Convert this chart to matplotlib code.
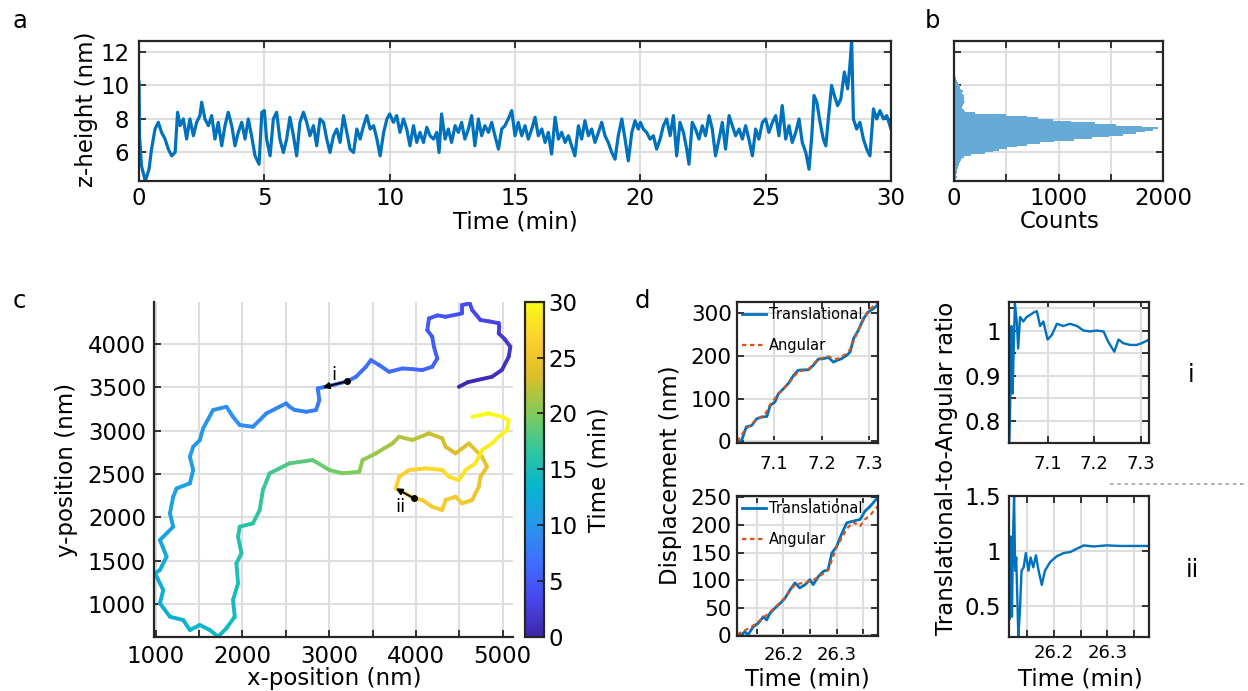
import numpy as np
import matplotlib
matplotlib.use('Agg')
import matplotlib.pyplot as plt
from matplotlib.collections import LineCollection
from matplotlib.colors import LinearSegmentedColormap, Normalize
from matplotlib.cm import ScalarMappable
from matplotlib.lines import Line2D

plt.rcParams['font.family'] = 'DejaVu Sans'

###########
# DATA
###########

# a: z-height (nm) against time (min)
z_time = [0.0, 0.02, 0.1, 0.25, 0.4, 0.5, 0.64, 0.77, 0.9, 1.04, 1.17, 1.3, 1.44, 1.54, 1.64, 1.77, 1.9, 2.03, 2.17, 2.3,
          2.43, 2.5, 2.63, 2.77, 2.9, 3.03, 3.16, 3.3, 3.43, 3.56, 3.7, 3.83, 3.96, 4.1, 4.23, 4.36, 4.49, 4.63, 4.79, 4.9,
          5.0, 5.09, 5.23, 5.36, 5.49, 5.62, 5.76, 5.89, 6.02, 6.16, 6.29, 6.42, 6.56, 6.69, 6.82, 6.96, 7.09, 7.22, 7.36, 7.49,
          7.62, 7.76, 7.89, 8.02, 8.16, 8.29, 8.42, 8.56, 8.69, 8.82, 8.96, 9.09, 9.22, 9.36, 9.49, 9.62, 9.76, 9.89,
          10.0, 10.15, 10.28, 10.41, 10.55, 10.68, 10.81, 10.95, 11.08, 11.21, 11.35, 11.48, 11.61, 11.75, 11.88, 11.97, 12.07, 12.21, 12.34, 12.47,
          12.61, 12.74, 12.87, 13.0, 13.14, 13.27, 13.4, 13.54, 13.67, 13.8, 13.94, 14.07, 14.2, 14.34, 14.47, 14.6, 14.73, 14.87, 15.0, 15.13,
          15.27, 15.4, 15.53, 15.67, 15.8, 15.93, 16.07, 16.2, 16.33, 16.46, 16.6, 16.73, 16.86, 17.0, 17.13, 17.26, 17.39, 17.53, 17.66, 17.79,
          17.93, 18.06, 18.19, 18.33, 18.46, 18.59, 18.72, 18.86, 18.99, 19.12, 19.26, 19.39, 19.52, 19.66, 19.79, 19.92,
          20.0, 20.12, 20.25, 20.39, 20.52, 20.65, 20.79, 20.92, 21.05, 21.19, 21.32, 21.45, 21.58, 21.72, 21.85, 21.94, 22.07, 22.2, 22.34, 22.47,
          22.6, 22.74, 22.87, 23.0, 23.14, 23.27, 23.4, 23.54, 23.67, 23.8, 23.94, 24.07, 24.2, 24.33, 24.47, 24.6, 24.73, 24.87, 25.0, 25.13,
          25.27, 25.4, 25.53, 25.66, 25.8, 25.93, 26.06, 26.2, 26.33, 26.46, 26.6, 26.73, 26.84, 26.93, 27.04, 27.17, 27.3, 27.4, 27.5, 27.63,
          27.74, 27.87, 28.0, 28.14, 28.27, 28.36, 28.43, 28.5, 28.63, 28.76, 28.9, 29.03, 29.16, 29.3, 29.43, 29.56, 29.7, 29.83, 30.0]
z_height = [10.2, 7.0, 5.2, 4.3, 5.0, 6.2, 7.4, 7.8, 7.2, 6.8, 6.2, 5.8, 6.0, 8.4, 7.6, 8.0, 6.8, 8.0, 7.0, 7.8,
            8.2, 9.0, 8.0, 7.6, 8.2, 6.8, 7.8, 6.4, 7.6, 8.4, 7.6, 6.4, 7.2, 7.8, 6.8, 8.0, 7.0, 5.8, 5.3, 8.4,
            8.5, 6.8, 5.8, 8.0, 8.4, 6.8, 6.0, 6.8, 8.1, 7.0, 5.8, 7.8, 8.4, 7.8, 7.0, 7.6, 6.4, 8.0, 7.8, 6.8,
            6.0, 7.0, 7.4, 6.6, 8.2, 7.2, 6.2, 6.0, 7.4, 6.8, 7.6, 8.2, 7.4, 7.6, 6.8, 5.8, 7.2, 8.0,
            8.3, 7.8, 8.2, 7.2, 8.0, 7.4, 6.4, 7.6, 6.6, 7.2, 6.6, 7.5, 7.0, 6.8, 7.2, 6.0, 8.3, 6.8, 7.4, 6.6,
            7.6, 7.2, 7.8, 6.8, 7.4, 8.2, 6.4, 8.0, 7.0, 7.6, 7.2, 7.8, 7.0, 6.2, 7.4, 7.6, 8.0, 8.5, 7.0, 7.8,
            7.0, 7.6, 6.8, 7.4, 8.1, 7.0, 7.4, 6.6, 7.2, 5.9, 8.1, 6.8, 7.2, 6.6, 7.0, 6.4, 5.8, 7.6, 6.8, 7.9,
            7.0, 7.4, 6.6, 7.2, 7.8, 7.0, 6.6, 6.0, 5.6, 7.0, 8.0, 6.8, 5.5, 7.2, 7.9, 7.4,
            7.8, 7.4, 7.2, 6.8, 7.0, 6.2, 6.8, 7.6, 8.0, 7.0, 8.2, 5.8, 7.8, 7.2, 6.2, 5.3, 7.8, 7.4, 6.8, 7.6,
            7.0, 8.2, 7.4, 5.8, 6.8, 7.8, 6.2, 8.2, 7.6, 7.0, 7.4, 6.8, 7.6, 6.8, 5.8, 7.4, 6.8, 7.8, 8.0, 7.2,
            7.8, 8.2, 7.0, 8.8, 6.8, 7.6, 6.6, 7.2, 8.0, 6.6, 6.0, 5.0, 7.0, 9.4, 9.0, 7.8, 6.8, 6.4, 8.0, 10.0,
            9.4, 8.8, 9.2, 10.8, 9.8, 11.2, 12.7, 8.0, 7.4, 7.8, 6.8, 6.2, 5.8, 8.6, 8.0, 8.5, 8.0, 8.2, 7.4]

# b: histogram of z-height, 0.1 nm bins starting at 4.3 nm
hist_start = 4.3
hist_width = 0.1
hist_counts = [15, 20, 25, 20, 25, 30, 30, 35, 40, 45, 50, 60, 70, 80, 100, 160, 300, 370, 430, 510,
               600, 700, 820, 960, 1150, 1320, 1480, 1620, 1740, 1830, 1900, 1950, 1800, 1550, 1350, 1120, 950, 800, 700, 500,
               200, 110, 95, 80, 75, 85, 100, 110, 100, 95, 100, 90, 80, 85, 70, 60, 55, 45, 40, 30,
               20, 15, 12, 10, 10, 8, 8, 6, 5, 4, 3, 3, 2, 2, 2, 1, 1, 1, 1, 1, 0, 0, 1]

# c: xy trajectory (nm), coloured by time (min)
traj_x = [4495, 4600, 4877, 4990, 5069, 5088, 5020, 4954, 4960, 4954,
          4850, 4744, 4700, 4648, 4620, 4533, 4533, 4342, 4250, 4150,
          4131, 4188, 4207, 4246, 4188, 4073, 3960, 3844, 3691, 3576,
          3481, 3424, 3309, 3210, 3040, 2925, 2868, 2887, 2849, 2735,
          2600, 2543, 2505, 2390, 2276, 2122, 1969, 1892, 1816, 1662,
          1548, 1510, 1433, 1395, 1433, 1395, 1242, 1203, 1165, 1203,
          1127, 1050, 1127, 1050, 993, 1088, 1050, 1165, 1318, 1395,
          1510, 1625, 1720, 1816, 1912, 1892, 1950, 1931, 1989, 1950,
          1969, 2122, 2199, 2237, 2313, 2428, 2543, 2811, 3002, 3155,
          3347, 3385, 3539, 3729, 3806, 3959, 4150, 4303, 4342, 4457,
          4610, 4762, 4820, 4744, 4724, 4648, 4533, 4457, 4342, 4303,
          4188, 4073, 3978, 3870, 3768, 3806, 3921, 4112, 4303, 4380,
          4495, 4572, 4686, 4762, 4877, 4954, 5050, 5069, 4992, 4839, 4648]
traj_y = [3506, 3560, 3622, 3700, 3852, 3968, 4060, 4122, 4200, 4240,
          4260, 4276, 4330, 4391, 4468, 4450, 4353, 4314, 4330, 4295,
          4160, 4083, 3968, 3834, 3737, 3699, 3710, 3718, 3679, 3757,
          3814, 3737, 3622, 3570, 3526, 3499, 3488, 3353, 3238, 3218,
          3240, 3276, 3315, 3257, 3199, 3045, 3065, 3160, 3276, 3238,
          3026, 2892, 2814, 2699, 2546, 2392, 2334, 2238, 2046, 1892,
          1815, 1738, 1546, 1392, 1354, 1161, 1008, 854, 815, 700,
          758, 700, 623, 720, 854, 1046, 1239, 1469, 1585, 1776,
          1892, 1931, 2084, 2315, 2508, 2565, 2623, 2661, 2546, 2508,
          2526, 2661, 2738, 2853, 2930, 2892, 2969, 2911, 2814, 2738,
          2853, 2699, 2584, 2468, 2353, 2200, 2161, 2238, 2200, 2084,
          2122, 2200, 2219, 2280, 2334, 2468, 2546, 2565, 2546, 2468,
          2430, 2546, 2623, 2776, 2853, 2930, 3007, 3122, 3160, 3199, 3160]
traj_t = [0.0, 0.3, 0.8, 1.1, 1.4, 1.6, 2.0, 2.3, 2.5, 2.7,
          2.9, 3.1, 3.3, 3.5, 3.7, 3.9, 4.0, 4.3, 4.5, 4.7,
          4.9, 5.0, 5.2, 5.4, 5.6, 5.8, 6.0, 6.2, 6.4, 6.6,
          6.7, 6.8, 6.9, 7.02, 7.2, 7.32, 7.4, 7.6, 7.8, 8.0,
          8.2, 8.3, 8.4, 8.6, 8.8, 9.1, 9.3, 9.5, 9.6, 9.8,
          10.0, 10.2, 10.3, 10.5, 10.6, 10.8, 11.0, 11.1, 11.3, 11.5,
          11.6, 11.8, 12.0, 12.2, 12.3, 12.5, 12.7, 12.9, 13.1, 13.3,
          13.5, 13.7, 13.9, 14.1, 14.3, 14.6, 14.9, 15.2, 15.4, 15.7,
          15.9, 16.2, 16.5, 16.8, 17.1, 17.4, 17.8, 18.6, 19.2, 19.6,
          20.1, 20.4, 20.8, 21.3, 21.6, 22.0, 22.5, 22.9, 23.1, 23.4,
          23.8, 24.2, 24.5, 24.7, 24.9, 25.2, 25.4, 25.6, 25.8, 25.9,
          26.0, 26.08, 26.13, 26.25, 26.38, 26.6, 26.8, 27.1, 27.4, 27.6,
          27.8, 28.0, 28.3, 28.6, 28.9, 29.1, 29.3, 29.5, 29.7, 29.85, 30.0]
arrow_i = [(3210, 3570), (2925, 3499)]
arrow_ii = [(3978, 2219), (3768, 2334)]

# d: displacement (nm) for segments i and ii
d1_t = [7.023, 7.032, 7.042, 7.053, 7.064, 7.074, 7.085, 7.092, 7.102, 7.109, 7.12, 7.13, 7.141, 7.151, 7.162, 7.172,
        7.183, 7.193, 7.204, 7.214, 7.225, 7.232, 7.242, 7.253, 7.26, 7.267, 7.277, 7.288, 7.298, 7.309, 7.319]
d1_trans = [-3, 2, 34, 37, 53, 57, 58, 84, 92, 111, 123, 135, 154, 166, 167, 167,
            178, 192, 193, 196, 185, 189, 193, 201, 209, 240, 259, 287, 302, 310, 320]
d1_ang_t = [7.023, 7.04, 7.053, 7.064, 7.08, 7.092, 7.109, 7.13, 7.151, 7.172, 7.193, 7.214, 7.232, 7.253, 7.26, 7.277, 7.298, 7.319]
d1_ang = [0, 28, 40, 52, 60, 86, 110, 135, 163, 168, 192, 198, 192, 205, 215, 260, 305, 326]

d2_t = [26.114, 26.122, 26.128, 26.134, 26.144, 26.153, 26.163, 26.169, 26.175, 26.184, 26.194, 26.203, 26.213, 26.222, 26.231,
        26.241, 26.25, 26.256, 26.266, 26.275, 26.284, 26.291, 26.3, 26.309, 26.319, 26.331, 26.344, 26.353, 26.363, 26.378]
d2_trans = [0, 1, 7, 1, 16, 22, 34, 28, 40, 49, 58, 67, 83, 95, 86,
            92, 101, 92, 107, 116, 119, 149, 161, 183, 204, 207, 210, 225, 234, 251]
d2_ang_t = [26.114, 26.13, 26.144, 26.163, 26.184, 26.203, 26.222, 26.241, 26.256, 26.275, 26.284, 26.3, 26.319, 26.331, 26.344, 26.353, 26.363, 26.378]
d2_ang = [2, 10, 18, 32, 50, 68, 92, 96, 100, 112, 118, 160, 193, 205, 198, 210, 218, 235]

# translational-to-angular ratio
r1_t = [7.018, 7.021, 7.023, 7.025, 7.028, 7.03, 7.034, 7.037, 7.041, 7.048, 7.055, 7.063, 7.07, 7.077, 7.084, 7.091, 7.1,
        7.109, 7.12, 7.134, 7.148, 7.163, 7.177, 7.191, 7.205, 7.22, 7.23, 7.243, 7.252, 7.262, 7.277, 7.291, 7.302, 7.318]
r1 = [0.75, 0.89, 1.01, 0.86, 0.98, 1.06, 1.02, 0.96, 1.03, 1.02, 1.03, 1.035, 1.04, 1.043, 1.01, 1.02, 0.98,
      0.99, 1.015, 1.01, 1.015, 1.01, 1.0, 0.998, 1.0, 0.998, 0.975, 0.953, 0.98, 0.972, 0.968, 0.968, 0.972, 0.98]
r2_t = [26.116, 26.117, 26.119, 26.121, 26.123, 26.125, 26.127, 26.129, 26.131, 26.133, 26.136, 26.139, 26.143, 26.147, 26.152, 26.156,
        26.161, 26.166, 26.171, 26.177, 26.183, 26.193, 26.205, 26.218, 26.231, 26.243, 26.256, 26.274, 26.299, 26.324, 26.349, 26.379]
r2 = [0.98, 0.38, 1.13, 0.4, 1.13, 1.5, 0.82, 0.94, 0.58, 0.22, 0.46, 0.82, 0.85, 0.98, 0.82, 0.94,
      0.85, 0.96, 0.82, 0.69, 0.82, 0.9, 0.95, 0.98, 0.99, 1.02, 1.05, 1.04, 1.05, 1.045, 1.045, 1.045]

###########
# STYLE
###########
W, H = 1248, 691
BLUE = '#0072BD'
ORANGE = '#D95319'
HIST = '#66AAD7'
SPINE = '#262626'
GRID = '#dedede'
FS = 16.5

parula = LinearSegmentedColormap.from_list('parula', [
    (0.2422, 0.1504, 0.6603), (0.2803, 0.2782, 0.9221), (0.2440, 0.4358, 0.9988),
    (0.1540, 0.5902, 0.9218), (0.0297, 0.7082, 0.8163), (0.1938, 0.7758, 0.6251),
    (0.5044, 0.7993, 0.3480), (0.8634, 0.7406, 0.1596), (0.9892, 0.8136, 0.1885),
    (0.9769, 0.9839, 0.0805)])


def rect(l, r, t, b):
    # pixel box -> figure fraction
    return [l / W, 1 - b / H, (r - l) / W, (b - t) / H]


def ftext(x, y, s, **kw):
    fig.text(x / W, 1 - y / H, s, **kw)


def box_style(ax, xsize=FS, ysize=FS, xpad=6, ypad=6, box=True):
    for name, s in ax.spines.items():
        s.set_linewidth(1.6)
        s.set_color(SPINE)
        if not box and name in ('top', 'right'):
            s.set_visible(False)
    ax.tick_params(direction='in', top=box, right=box, length=5, width=1.3, color=SPINE)
    ax.tick_params(axis='x', labelsize=xsize, pad=xpad)
    ax.tick_params(axis='y', labelsize=ysize, pad=ypad)
    ax.grid(True, color=GRID, lw=1.5)
    ax.set_axisbelow(True)


fig = plt.figure(figsize=(W / 100, H / 100), dpi=100)

###########
# a: z-height trace
###########
ax_a = fig.add_axes(rect(139, 891, 41, 181))
ax_a.plot(z_time, z_height, color=BLUE, lw=2.3)
ax_a.set_xlim(0, 30)
ax_a.set_ylim(4.3, 12.65)
ax_a.set_xticks([0, 5, 10, 15, 20, 25, 30])
ax_a.set_yticks([6, 8, 10, 12])
box_style(ax_a, xpad=4.5, ypad=7)
ftext(515, 228.5, 'Time (min)', ha='center', va='baseline', fontsize=FS)
ftext(86, 109, 'z-height (nm)', ha='center', va='center', rotation=90, fontsize=FS)

###########
# b: histogram
###########
ax_b = fig.add_axes(rect(954, 1163, 41, 181))
centers = hist_start + hist_width * (np.arange(len(hist_counts)) + 0.5)
ax_b.barh(centers, hist_counts, height=hist_width, color=HIST, edgecolor='none')
ax_b.set_xlim(0, 2000)
ax_b.set_ylim(4.3, 12.65)
ax_b.set_xticks([0, 500, 1000, 1500, 2000])
ax_b.set_xticklabels(['0', '', '1000', '', '2000'])
ax_b.set_yticks([6, 8, 10, 12])
box_style(ax_b, xpad=4.5)
ax_b.tick_params(axis='y', labelleft=False)
ftext(1060, 228.5, 'Counts', ha='center', va='baseline', fontsize=FS)

###########
# c: trajectory
###########
ax_c = fig.add_axes(rect(154.3, 513.3, 301.7, 636.7))
pts = np.column_stack([traj_x, traj_y])
segs = np.stack([pts[:-1], pts[1:]], axis=1)
tt = np.asarray(traj_t)
norm = Normalize(0, 30)
lc = LineCollection(segs, cmap=parula, norm=norm, linewidths=2.8, capstyle='round', joinstyle='round')
lc.set_array(0.5 * (tt[:-1] + tt[1:]))
ax_c.add_collection(lc)
for (p0, p1), lab, lpos in [(arrow_i, 'i', (3048, 3590)), (arrow_ii, 'ii', (3821, 2065))]:
    ax_c.annotate('', xy=p1, xytext=p0,
                  arrowprops=dict(arrowstyle='-|>', color='k', lw=1.4, mutation_scale=9, shrinkA=0, shrinkB=0))
    ax_c.plot(*p0, 'o', color='k', ms=4)
    ax_c.text(*lpos, lab, ha='center', va='baseline', fontsize=13)
ax_c.set_xlim(985, 5122)
ax_c.set_ylim(623, 4488)
ax_c.set_xticks(np.arange(1000, 5001, 500))
ax_c.set_xticklabels([str(v) if v % 1000 == 0 else '' for v in range(1000, 5001, 500)])
ax_c.set_yticks(np.arange(1000, 4001, 500))
box_style(ax_c, xpad=6, ypad=6, box=False)
ftext(334, 685, 'x-position (nm)', ha='center', va='baseline', fontsize=FS)
ftext(66, 470, 'y-position (nm)', ha='center', va='center', rotation=90, fontsize=FS)

cax = fig.add_axes(rect(525, 544, 301.7, 636.7))
cb = fig.colorbar(ScalarMappable(norm=norm, cmap=parula), cax=cax, ticks=[0, 5, 10, 15, 20, 25, 30])
cb.outline.set_linewidth(1.6)
cb.outline.set_edgecolor(SPINE)
cax.tick_params(direction='in', length=5, width=1.3, color=SPINE, labelsize=FS, pad=3)
ftext(599, 470, 'Time (min)', ha='center', va='center', rotation=90, fontsize=FS)

###########
# d: displacement
###########
ax_d1 = fig.add_axes(rect(737.3, 878.3, 301.7, 442.7))
ax_d1.plot(d1_t, d1_trans, color=BLUE, lw=2.0, label='Translational')
ax_d1.plot(d1_ang_t, d1_ang, color=ORANGE, lw=1.6, dashes=(2, 1.6), label='Angular')
ax_d1.set_xlim(7.023, 7.319)
ax_d1.set_ylim(-3, 326)
ax_d1.set_xticks([7.1, 7.2, 7.3])
ax_d1.set_yticks([0, 100, 200, 300])
box_style(ax_d1, xsize=13, ysize=15.5, xpad=9, ypad=4)

ax_d2 = fig.add_axes(rect(737.3, 878.3, 495.7, 636))
ax_d2.plot(d2_t, d2_trans, color=BLUE, lw=2.0, label='Translational')
ax_d2.plot(d2_ang_t, d2_ang, color=ORANGE, lw=1.6, dashes=(2, 1.6), label='Angular')
ax_d2.set_xlim(26.114, 26.378)
ax_d2.set_ylim(-1, 253)
ax_d2.set_xticks([26.15, 26.2, 26.25, 26.3, 26.35])
ax_d2.set_xticklabels(['', '26.2', '', '26.3', ''])
ax_d2.set_yticks([0, 50, 100, 150, 200, 250])
box_style(ax_d2, xsize=13, ysize=15.5, xpad=7, ypad=4)

for ax in (ax_d1, ax_d2):
    ax.legend(loc='upper left', frameon=False, fontsize=10.5, handlelength=1.6,
              handletextpad=0.25, labelspacing=1.1, borderaxespad=0.15, borderpad=0.2)

ftext(671, 475, 'Displacement (nm)', ha='center', va='center', rotation=90, fontsize=FS)
ftext(807, 685, 'Time (min)', ha='center', va='baseline', fontsize=FS)

###########
# ratio panels
###########
ax_r1 = fig.add_axes(rect(1009.3, 1149.3, 301.7, 442.7))
ax_r1.plot(r1_t, r1, color=BLUE, lw=1.7)
ax_r1.set_xlim(7.018, 7.318)
ax_r1.set_ylim(0.751, 1.064)
ax_r1.set_xticks([7.1, 7.2, 7.3])
ax_r1.set_yticks([0.8, 0.85, 0.9, 0.95, 1.0, 1.05])
ax_r1.set_yticklabels(['0.8', '', '0.9', '', '1', ''])
box_style(ax_r1, xsize=13, ysize=FS, xpad=9, ypad=6)

ax_r2 = fig.add_axes(rect(1009.3, 1149.3, 496, 636.7))
ax_r2.plot(r2_t, r2, color=BLUE, lw=1.7)
ax_r2.set_xlim(26.116, 26.379)
ax_r2.set_ylim(0.218, 1.5)
ax_r2.set_xticks([26.15, 26.2, 26.25, 26.3, 26.35])
ax_r2.set_xticklabels(['', '26.2', '', '26.3', ''])
ax_r2.set_yticks([0.5, 1.0, 1.5])
ax_r2.set_yticklabels(['0.5', '1', '1.5'])
box_style(ax_r2, xsize=13, ysize=FS, xpad=5, ypad=6)

ftext(947, 468, 'Translational-to-Angular ratio', ha='center', va='center', rotation=90, fontsize=FS)
ftext(1080, 685, 'Time (min)', ha='center', va='baseline', fontsize=FS)
ftext(1191, 381.7, 'i', ha='center', va='baseline', fontsize=17)
ftext(1192, 576.7, 'ii', ha='center', va='baseline', fontsize=17)
fig.add_artist(Line2D([1110 / W, 1245 / W], [1 - 484 / H, 1 - 484 / H], color='#aaaaaa', lw=1.3, dashes=(2, 2)))

# panel letters
for x, y, s in [(12, 28.3, 'a'), (925, 28.3, 'b'), (13, 308.3, 'c'), (635, 308.3, 'd')]:
    ftext(x, y, s, ha='left', va='baseline', fontsize=17.5)

fig.savefig('out.png', dpi=100)
